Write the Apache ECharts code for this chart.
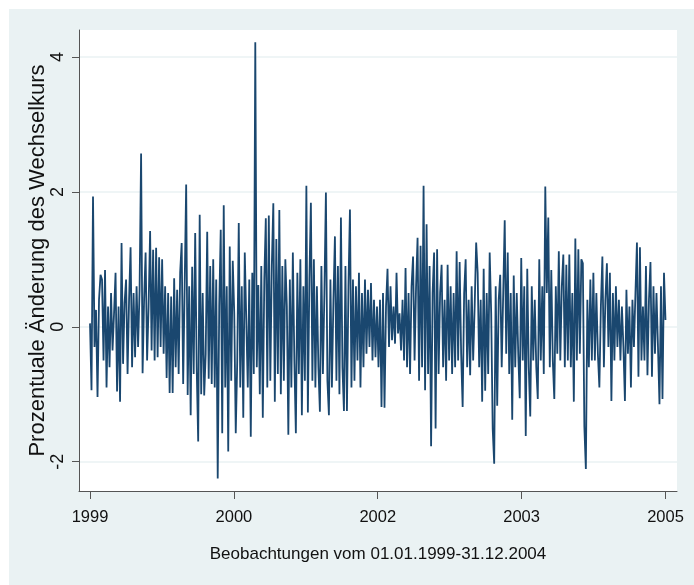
<!DOCTYPE html>
<html>
<head>
<meta charset="utf-8">
<script src="https://cdn.jsdelivr.net/npm/echarts@6/dist/echarts.min.js"></script>
<style>
  body { margin: 0; background: #fff; }
  #chart {
    width: 694px; height: 585px;
    background: linear-gradient(#eaf2f3, #eaf2f3) no-repeat 9px 9px / 685px 576px, #fff;
  }
</style>
</head>
<body>
<div id="chart"></div>
<script>
// x tick labels (as printed on the original axis)
var xTicks = [0, 1, 2, 3, 4];
var xLabels = ['1999', '2000', '2002', '2003', '2005'];
var yTicks = [-2, 0, 2, 4];

// daily % changes left to right
var block1 = [
  0.05, -0.94, 1.93, -0.3, 0.25, -1.04, 0.4, 0.77,
  0.7, -0.5, 0.84, -0.9, 0.3, -0.6, 0.5, -0.35,
  0.2, 0.8, -0.96, 0.3, -1.11, 1.24, -0.55, 0.35,
  0.7, -0.7, 0.4, 1.18, -0.6, 0.5, -0.45, 0.6,
  -0.3, 0.55, 2.57, -0.69, 0.4, 1.1, -0.5, 0.3,
  1.42, -0.35, 1.14, -0.5, 1.17, -0.45, 1.03, -0.3,
  1.0, -0.4, 0.6, -0.76, 0.5, -0.98, 0.45, -0.98,
  0.72, -0.6, 0.55, -0.7, 0.8, 1.24, -0.85, 0.6
];
var block2 = [
  2.11, -1.01, 0.6, -1.31, 0.89, -0.7, 1.39, -0.6,
  -1.7, 1.66, -1.0, 0.5, -1.02, -0.4, 1.41, -0.77,
  0.9, -0.85, 1.0, -0.9, 0.7, -2.25, 0.3, 1.44,
  -1.58, 1.8, -0.9, 0.6, -1.85, 1.19, -0.8, 0.98,
  0.2, -1.58, -0.5, 1.54, -0.9, 0.6, -1.35, 1.1,
  1.12, -0.9, 0.7, -1.63, 0.8, -0.7, 4.22, -0.6,
  0.62, -1.0, 0.9, -1.35, 0.7, 1.61, -0.9, 1.65,
  -0.8, 0.9, 1.83, -1.11, 1.3, -0.7, 1.73, -1.0
];
var block3 = [
  0.9, -0.8, 1.0, 0.3, -1.6, 0.7, -0.9, 1.1,
  -0.5, -1.58, 0.8, -0.7, 1.0, -1.31, 0.6, -0.8,
  2.09, -1.27, 0.7, 1.84, -0.8, 1.0, -0.9, 0.6,
  -0.6, -1.26, 0.9, -0.7, 0.5, 1.99, -0.8, -1.31,
  0.7, -0.9, 0.4, 1.34, -0.8, 0.9, -1.0, 1.62,
  -0.6, -1.25, 0.9, -1.25, 0.6, 1.74, -0.9, 0.7,
  -0.8, 0.6, -0.5, 0.8, -0.9, 0.5, -0.6, 0.7,
  -0.4, 0.55, -0.3, 0.65, -0.5, 0.4, -0.45, 0.3
];
var block4 = [
  -0.6, 0.4, -1.19, 0.5, -1.2, 0.3, 0.86, -0.3,
  0.6, -0.2, 0.3, -0.25, 0.8, -0.1, 0.2, -0.35,
  0.4, -0.5, 0.87, -0.6, 0.5, -0.7, 0.6, 1.04,
  -0.5, 0.6, 1.32, -0.8, 1.2, -0.6, 2.09, -0.94,
  1.52, -0.7, 0.9, -1.77, 0.5, 1.1, -1.51, 1.15,
  -0.7, 0.5, 0.92, -0.6, 0.4, -0.8, 0.92, -0.5,
  0.6, -0.7, 0.5, -0.6, 1.12, -0.5, 0.96, -0.4,
  -1.19, 0.5, 1.0, -0.6, 0.4, -0.72, 0.6, -0.5
];
var block5 = [
  0.3, 1.25, 0.8, -0.6, 0.4, -1.11, 0.86, -0.95,
  0.5, -0.7, 1.1, 0.2, -1.51, -2.03, 0.6, -1.17,
  0.4, 0.77, -0.6, 0.5, 1.58, -0.4, 1.1, -0.7,
  0.5, -1.38, 0.76, -0.6, 0.5, -0.4, -1.06, 1.02,
  -0.5, 0.6, -1.62, 0.86, -0.6, -1.33, 0.6, -0.5,
  0.4, -0.6, -1.07, 1.0, -0.5, 0.6, -0.7, 2.08,
  0.5, 1.62, -0.6, 0.84, -0.5, -1.07, 0.6, -0.4,
  1.12, -0.5, 0.6, 1.07, -0.6, 0.92, -0.5, 1.07
];
var block6 = [
  -0.6, 0.5, -1.11, 1.31, -0.5, 1.15, -0.4, 1.0,
  0.94, -1.48, -2.11, 0.4, -0.6, 0.7, -0.5, 0.8,
  -0.5, 0.5, -0.4, -0.9, 0.3, 1.04, -0.6, 0.4,
  0.94, -0.3, 0.8, -1.1, 0.5, -0.5, 0.6, -0.3,
  0.4, -0.5, 0.3, -0.3, -1.1, 0.55, -0.4, 0.3,
  -0.9, 0.4, -0.3, 0.5, 1.25, -0.74, 1.18, -0.5,
  0.3, -0.5, 0.9, -0.72, 0.4, 0.96, -0.74, 0.6,
  -0.4, 0.5, -0.3, -1.15, 0.6, -1.07, 0.8, 0.1
];

var values = [].concat(block1, block2, block3, block4, block5, block6);
var n = values.length;
var seriesData = values.map(function (v, i) { return [i * 4 / (n - 1), v]; });

var font = '"Liberation Sans", Arial, sans-serif';
var chart = echarts.init(document.getElementById('chart'));
chart.setOption({
  animation: false,
  grid: {
    left: 79, top: 30, width: 598, height: 461,
    show: true, backgroundColor: '#fff', borderWidth: 0
  },
  xAxis: {
    type: 'value',
    min: -0.0765, max: 4.08,
    name: 'Beobachtungen vom 01.01.1999-31.12.2004',
    nameLocation: 'middle',
    nameGap: 55,
    nameTextStyle: { fontFamily: font, fontSize: 17, color: '#111' },
    axisLine: { show: true, onZero: false, lineStyle: { color: '#555', width: 1 } },
    axisTick: { show: true, customValues: xTicks, length: 8, lineStyle: { color: '#555' } },
    axisLabel: {
      customValues: xTicks,
      margin: 18,
      fontFamily: font, fontSize: 16.5, color: '#111',
      formatter: function (v) { return xLabels[xTicks.indexOf(Math.round(v))] || ''; }
    },
    splitLine: { show: false }
  },
  yAxis: {
    type: 'value',
    min: -2.435, max: 4.4,
    splitNumber: 3,
    name: 'Prozentuale Änderung des Wechselkurs',
    nameLocation: 'middle',
    nameRotate: 90,
    nameGap: 30,
    nameMoveOverlap: false,
    nameTextStyle: { fontFamily: font, fontSize: 22, color: '#111' },
    axisLine: { show: true, onZero: false, lineStyle: { color: '#555', width: 1 } },
    axisTick: { show: true, customValues: yTicks, length: 7, lineStyle: { color: '#555' } },
    axisLabel: {
      customValues: yTicks,
      rotate: 90,
      margin: 12,
      fontFamily: font, fontSize: 18, color: '#111'
    },
    splitLine: { show: true, lineStyle: { color: '#eaf2f3', width: 1.5 } }
  },
  series: [{
    type: 'line',
    data: seriesData,
    showSymbol: false,
    sampling: null,
    lineStyle: { color: '#1a476f', width: 1.8 }
  }]
});
</script>
</body>
</html>
